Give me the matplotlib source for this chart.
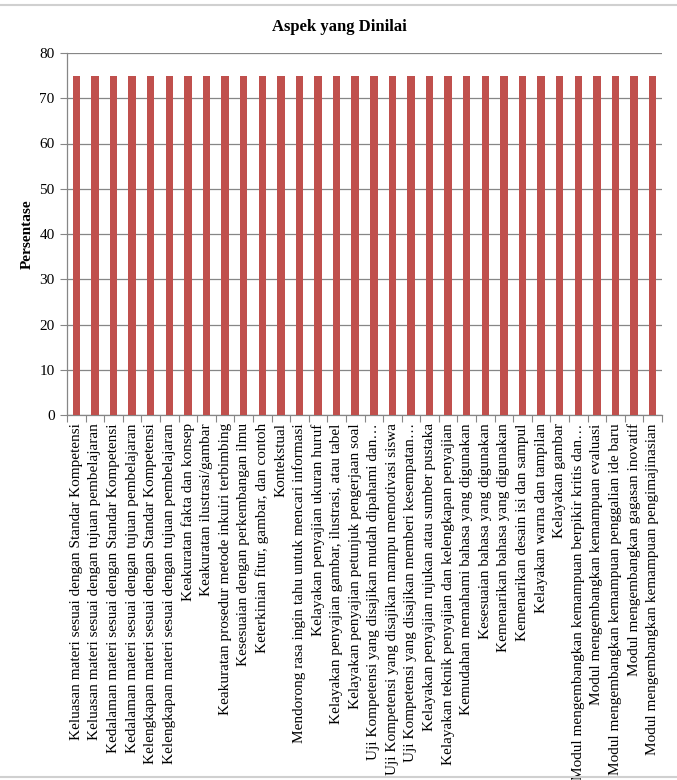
import numpy as np
import matplotlib
matplotlib.use("Agg")
import matplotlib.pyplot as plt
from matplotlib.lines import Line2D

plt.rcParams['font.family'] = ['Liberation Serif', 'DejaVu Serif']

# aspek yang dinilai
aspek = [
    "Keluasan materi sesuai dengan Standar Kompetensi",
    "Keluasan materi sesuai dengan tujuan pembelajaran",
    "Kedalaman materi sesuai dengan Standar Kompetensi",
    "Kedalaman materi sesuai dengan tujuan pembelajaran",
    "Kelengkapan materi sesuai dengan Standar Kompetensi",
    "Kelengkapan materi sesuai dengan tujuan pembelajaran",
    "Keakuratan fakta dan konsep",
    "Keakuratan ilustrasi/gambar",
    "Keakuratan prosedur metode inkuiri terbimbing",
    "Kesesuaian dengan perkembangan ilmu",
    "Keterkinian fitur, gambar, dan contoh",
    "Kontekstual",
    "Mendorong rasa ingin tahu untuk mencari informasi",
    "Kelayakan penyajian ukuran huruf",
    "Kelayakan penyajian gambar, ilustrasi, atau tabel",
    "Kelayakan penyajian petunjuk pengerjaan soal",
    "Uji Kompetensi yang disajikan mudah dipahami dan\u2026",
    "Uji Kompetensi yang disajikan mampu memotivasi siswa",
    "Uji Kompetensi yang disajikan memberi kesempatan\u2026",
    "Kelayakan penyajian rujukan atau sumber pustaka",
    "Kelayakan teknik penyajian dan kelengkapan penyajian",
    "Kemudahan memahami bahasa yang digunakan",
    "Kesesuaian bahasa yang digunakan",
    "Kemenarikan bahasa yang digunakan",
    "Kemenarikan desain isi dan sampul",
    "Kelayakan warna dan tampilan",
    "Kelayakan gambar",
    "Modul mengembangkan kemampuan berpikir kritis dan\u2026",
    "Modul mengembangkan kemampuan evaluasi",
    "Modul mengembangkan kemampuan penggalian ide baru",
    "Modul mengembangkan gagasan inovatif",
    "Modul mengembangkan kemampuan pengimajinasian",
]
persentase = [75] * len(aspek)
y_ticks = [0, 10, 20, 30, 40, 50, 60, 70, 80]

fig = plt.figure(figsize=(6.77, 7.8), dpi=100)
ax = fig.add_axes([67/677, 1 - 415/780, (662 - 67)/677, (415 - 53)/780])

x = np.arange(len(aspek))
ax.bar(x, persentase, width=0.4, color='#C0504D', zorder=3)

ax.set_xlim(-0.5, len(aspek) - 0.5)
ax.set_ylim(0, 80)
ax.set_yticks(y_ticks)
ax.tick_params(axis='y', labelsize=11, length=5, color='#868686', pad=4)
ax.yaxis.grid(True, color='#868686', linewidth=0.9, zorder=0)

# tick di batas kategori, label di tengah
ax.set_xticks(np.arange(-0.5, len(aspek)), minor=False)
ax.set_xticklabels([])
ax.set_xticks(x, minor=True)
ax.set_xticklabels(aspek, minor=True, rotation=90, ha='center', va='top', fontsize=11)
ax.tick_params(axis='x', which='major', length=5, color='#868686')
ax.tick_params(axis='x', which='minor', length=0, pad=6)

for s in ['top', 'right']:
    ax.spines[s].set_visible(False)
for s in ['left', 'bottom']:
    ax.spines[s].set_color('#868686')
    ax.spines[s].set_linewidth(0.9)

ax.set_ylabel('Persentase', fontsize=11, fontweight='bold', labelpad=4)
fig.text(0.502, 1 - 27/780, 'Aspek yang Dinilai', ha='center', va='center', fontsize=12, fontweight='bold')

# garis bingkai atas dan bawah
fig.add_artist(Line2D([0, 1], [1 - 5/780, 1 - 5/780], color='#d0d0d0', linewidth=1.5))
fig.add_artist(Line2D([0, 1], [3/780, 3/780], color='#d0d0d0', linewidth=1.5))

fig.savefig('out.png', dpi=100)
